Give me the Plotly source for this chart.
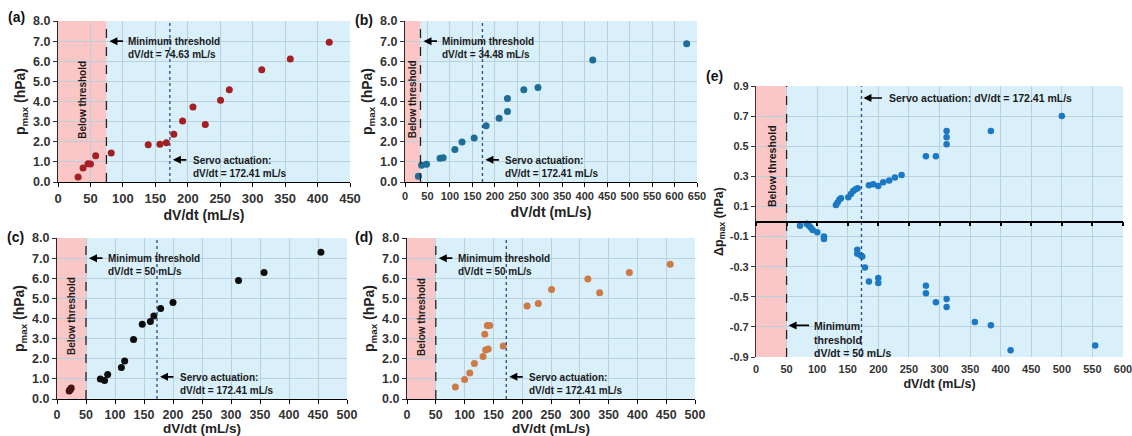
import plotly.graph_objects as go

W, H = 1132, 436
FONT = "Liberation Sans, Arial, sans-serif"

# ---------------- data ----------------
a_x = [31, 38.6, 46.3, 50, 58, 82, 139, 157, 167, 178.5, 192, 208, 227, 250.5, 264, 314, 358, 418]
a_y = [0.25, 0.70, 0.91, 0.90, 1.31, 1.44, 1.85, 1.87, 1.95, 2.37, 3.03, 3.73, 2.86, 4.06, 4.59, 5.58, 6.11, 6.94]

b_x = [29.7, 37, 48, 78, 85, 111, 127, 154, 180.5, 209.5, 228, 228, 264.5, 296, 418, 627]
b_y = [0.28, 0.83, 0.88, 1.18, 1.21, 1.61, 1.99, 2.19, 2.80, 3.17, 3.50, 4.15, 4.58, 4.70, 6.06, 6.87]

c_low_x = [21, 22, 23.5, 24.5]
c_low_y = [0.40, 0.45, 0.50, 0.55]
c_x = [74.7, 82, 87.4, 111, 116.7, 132, 147, 161, 167, 178.7, 200, 313, 357, 455]
c_y = [1.00, 0.92, 1.22, 1.57, 1.89, 2.96, 3.72, 3.85, 4.12, 4.50, 4.79, 5.89, 6.28, 7.29]

d_x = [84, 100, 109, 117, 132, 136.5, 141, 135, 139.5, 143.5, 167, 208.5, 228, 251, 314, 334.5, 386, 457]
d_y = [0.60, 0.97, 1.29, 1.77, 2.11, 2.44, 2.48, 3.22, 3.65, 3.65, 2.63, 4.62, 4.75, 5.44, 5.96, 5.28, 6.28, 6.70]

e_x = [130.7, 133.4, 136.2, 138.9, 150.9, 155.2, 159, 162.9, 166.2, 184.6, 191.7, 199.9, 208, 217.8,
       227.1, 238, 277.8, 294.1, 311.6, 311.6, 311.6, 384, 500,
       71.9, 82.8, 86.1, 89.4, 92.6, 100.2, 111.1, 111.1, 165.6, 165.6, 171.6, 173.7, 178.1, 184.6,
       199.9, 199.9, 277.8, 277.8, 294.1, 311.6, 311.6, 357.8, 384, 416.2, 554.5]
e_y = [0.11, 0.126, 0.144, 0.155, 0.161, 0.183, 0.203, 0.214, 0.221, 0.241, 0.248, 0.236, 0.261, 0.272,
       0.292, 0.309, 0.433, 0.433, 0.601, 0.559, 0.513, 0.601, 0.70,
       -0.029, -0.015, -0.027, -0.04, -0.057, -0.071, -0.099, -0.117, -0.188, -0.214, -0.225, -0.232,
       -0.305, -0.398, -0.376, -0.409, -0.427, -0.477, -0.537, -0.515, -0.568, -0.667, -0.689, -0.855, -0.824]

servo = 172.41
thresholds = {"a": 74.63, "b": 34.48, "c": 50, "d": 50, "e": 50}
threshold_text = {"a": "74.63", "b": "34.48", "c": "50", "d": "50", "e": "50"}
x_ranges = {"a": 450, "b": 650, "c": 500, "d": 500, "e": 600}

p_ticks = [0, 1, 2, 3, 4, 5, 6, 7, 8]
p_ticklabels = [f"{v:.1f}" for v in p_ticks]
e_ticks = [-0.9, -0.7, -0.5, -0.3, -0.1, 0.1, 0.3, 0.5, 0.7, 0.9]
e_ticklabels = [f"{v:.1f}" for v in e_ticks]

# ---------------- style ----------------
PINK = "#fbc6c6"
BG = "#d9effa"
GRID = "#b9d1df"
NAVY = "#2a4a92"


def dom_x(p0, p1):
    return [p0 / W, p1 / W]


def dom_y(p0, p1):
    return [1 - p1 / H, 1 - p0 / H]


panels = {
    "a": dict(ax="", xd=(58, 350), yd=(21, 182), xtf=13, ttf=14, label=(16, 17)),
    "b": dict(ax="2", xd=(405, 697), yd=(21, 182), xtf=11, ttf=14, label=(364, 20)),
    "c": dict(ax="3", xd=(57, 347), yd=(238, 399), xtf=12.5, ttf=13.5, label=(15, 237)),
    "d": dict(ax="4", xd=(407, 695), yd=(238, 399), xtf=12.5, ttf=13.5, label=(364, 237)),
    "e": dict(ax="5", xd=(756, 1123), yd=(86, 357), xtf=11, ttf=12.5, label=(714, 76)),
}

fig = go.Figure()

series = [
    ("a", a_x, a_y, "#a31f24", 7),
    ("b", b_x, b_y, "#1d6d96", 7),
    ("c", c_low_x, c_low_y, "#4a1212", 7),
    ("c", c_x, c_y, "#0d0d0d", 7),
    ("d", d_x, d_y, "#cd7a44", 7),
    ("e", e_x, e_y, "#1b78c2", 6.5),
]
for key, xs, ys, col, sz in series:
    ax = panels[key]["ax"]
    fig.add_trace(go.Scatter(x=xs, y=ys, mode="markers", xaxis="x" + ax, yaxis="y" + ax,
                             marker=dict(color=col, size=sz, line=dict(width=0)),
                             showlegend=False, hoverinfo="x+y"))

# invisible copy so the zero-line axis of (e) is drawn
fig.add_trace(go.Scatter(x=e_x, y=e_y, mode="markers", xaxis="x6", yaxis="y5",
                         marker=dict(opacity=0), showlegend=False, hoverinfo="skip"))

layout = dict(width=W, height=H, margin=dict(l=0, r=0, t=0, b=0, pad=0, autoexpand=False),
              autosize=False, paper_bgcolor="white", plot_bgcolor=BG,
              font=dict(family=FONT, color="#222"))

tick_font = lambda s: dict(family=FONT, size=s, color="#333", weight="bold")
title_font = lambda s: dict(family=FONT, size=s, color="#222", weight="bold")

for key, p in panels.items():
    ax = p["ax"]
    xa = dict(domain=dom_x(*p["xd"]), range=[0, x_ranges[key]], dtick=50, tick0=0,
              showgrid=True, gridcolor=GRID, gridwidth=1, zeroline=False,
              showline=True, linecolor="black", linewidth=1.2,
              ticks="outside", ticklen=4, tickcolor="black", automargin=False,
              ticklabeloverflow="allow",
              tickfont=tick_font(p["xtf"]), anchor="y" + ax,
              title=dict(text="dV/dt (mL/s)", font=title_font(p["ttf"]), standoff=5))
    if key == "e":
        xa.update(showline=False, ticks="", ticklabelstandoff=4)
        ya = dict(domain=dom_y(*p["yd"]), range=[-0.9, 0.9], tickvals=e_ticks, ticktext=e_ticklabels,
                  showgrid=True, gridcolor=GRID, zeroline=False, automargin=False,
                  showline=True, linecolor="#5a2a2a", linewidth=1.2,
                  ticks="outside", ticklen=4, tickcolor="#333",
                  tickfont=tick_font(11), anchor="x" + ax,
                  title=dict(text="Δp<sub>max</sub> (hPa)", font=title_font(12.5), standoff=3))
    else:
        ya = dict(domain=dom_y(*p["yd"]), range=[0, 8], tickvals=p_ticks, ticktext=p_ticklabels,
                  showgrid=True, gridcolor=GRID, zeroline=False, automargin=False,
                  showline=True, linecolor="#3a2020", linewidth=1.2,
                  ticks="outside", ticklen=4, tickcolor="#333",
                  tickfont=tick_font(12.5), anchor="x" + ax,
                  title=dict(text="p<sub>max</sub> (hPa)", font=title_font(14), standoff=4))
    layout["xaxis" + ax] = xa
    layout["yaxis" + ax] = ya

ed = dom_y(*panels["e"]["yd"])
layout["xaxis6"] = dict(overlaying="x5", anchor="free", position=(ed[0] + ed[1]) / 2,
                        range=[0, x_ranges["e"]], dtick=50, tick0=0, showgrid=False, zeroline=False,
                        showline=True, linecolor="black", linewidth=1.5, automargin=False,
                        ticks="outside", ticklen=4, tickcolor="black", tickwidth=1.5,
                        showticklabels=False)
fig.update_layout(**layout)

shapes = []
annotations = []
ann_font = dict(family=FONT, size=10, color="#1a1a1a", weight="bold")
ann_font_e = dict(family=FONT, size=10.5, color="#1a1a1a", weight="bold")

for key, p in panels.items():
    ax = p["ax"]
    xr, yr = "x" + ax, "y" + ax
    thr = thresholds[key]
    shapes.append(dict(type="rect", xref=xr, yref=yr + " domain", x0=0, x1=thr, y0=0, y1=1,
                       fillcolor=PINK, line=dict(width=0), layer="below"))
    shapes.append(dict(type="line", xref=xr, yref=yr + " domain", x0=thr, x1=thr, y0=0, y1=1,
                       line=dict(color="#222", width=1.3, dash="dash"), layer="above"))
    shapes.append(dict(type="line", xref=xr, yref=yr + " domain", x0=servo, x1=servo, y0=0, y1=1,
                       line=dict(color=NAVY, width=1.3, dash="dot"), layer="above"))

    by = 0.37 if key == "e" else 4.1
    annotations.append(dict(xref=xr, yref=yr, x=thr / 2, y=by, text="Below threshold", textangle=-90,
                            showarrow=False, font=ann_font_e if key == "e" else ann_font,
                            xanchor="center", yanchor="middle"))

    if key == "e":
        annotations.append(dict(xref=xr, yref=yr, x=servo, y=0.82, ax=22, ay=0, text="",
                                showarrow=True, arrowhead=2, arrowsize=1, arrowwidth=1.6,
                                arrowcolor="black", standoff=2))
        annotations.append(dict(xref=xr, yref=yr, x=servo, y=0.82, xshift=26,
                                text="Servo actuation: dV/dt = 172.41 mL/s",
                                showarrow=False, font=ann_font_e, xanchor="left", yanchor="middle"))
        annotations.append(dict(xref=xr, yref=yr, x=thr, y=-0.69, ax=24, ay=0, text="",
                                showarrow=True, arrowhead=2, arrowsize=1, arrowwidth=1.6,
                                arrowcolor="black", standoff=2))
        annotations.append(dict(xref=xr, yref=yr, x=thr, y=-0.69, xshift=25, yshift=7,
                                text="Minimum<br>threshold<br>dV/dt = 50 mL/s", align="left",
                                showarrow=False, font=ann_font_e, xanchor="left", yanchor="top"))
    else:
        annotations.append(dict(xref=xr, yref=yr, x=thr, y=7.0, ax=18, ay=0, text="",
                                showarrow=True, arrowhead=2, arrowsize=1, arrowwidth=1.6,
                                arrowcolor="black", standoff=3))
        annotations.append(dict(xref=xr, yref=yr, x=thr, y=7.0, xshift=20, yshift=7,
                                text=f"Minimum threshold<br>dV/dt = {threshold_text[key]} mL/s", align="left",
                                showarrow=False, font=ann_font, xanchor="left", yanchor="top"))
        annotations.append(dict(xref=xr, yref=yr, x=servo, y=1.1, ax=18, ay=0, text="",
                                showarrow=True, arrowhead=2, arrowsize=1, arrowwidth=1.6,
                                arrowcolor="black", standoff=3))
        annotations.append(dict(xref=xr, yref=yr, x=servo, y=1.1, xshift=21, yshift=7,
                                text="Servo actuation:<br>dV/dt = 172.41 mL/s", align="left",
                                showarrow=False, font=ann_font, xanchor="left", yanchor="top"))

    lx, ly = p["label"]
    annotations.append(dict(xref="paper", yref="paper", x=lx / W, y=1 - ly / H, text=f"({key})",
                            showarrow=False, xanchor="center", yanchor="middle",
                            font=dict(family=FONT, size=14, color="#111", weight="bold")))

fig.update_layout(shapes=shapes, annotations=annotations)
fig.write_html("out.html")
